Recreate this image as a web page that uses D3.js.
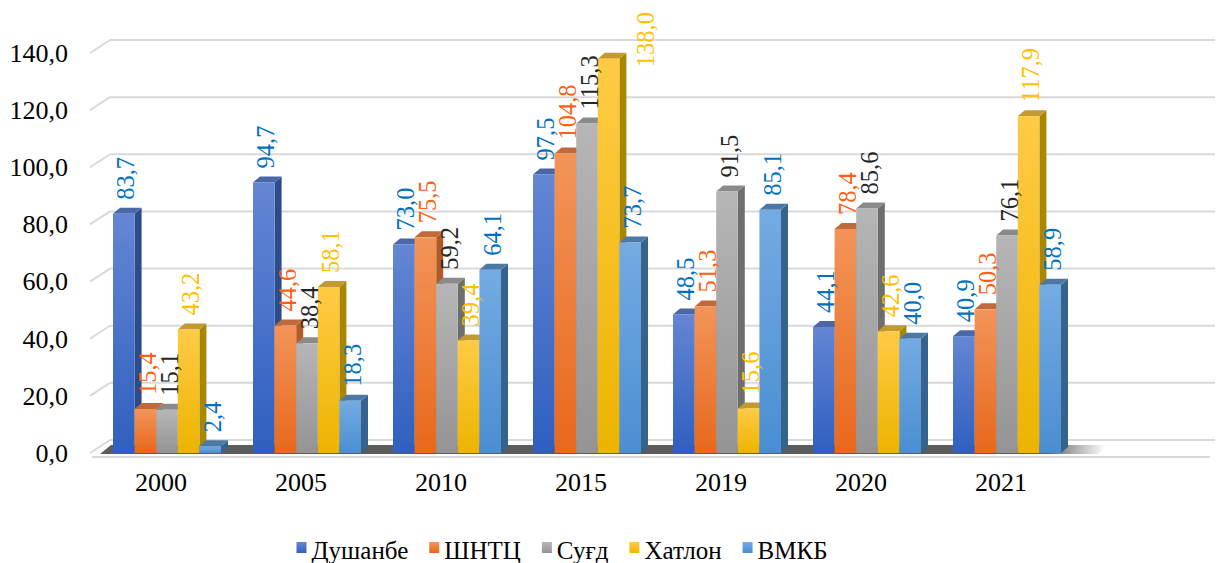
<!DOCTYPE html>
<html>
<head>
<meta charset="utf-8">
<script src="https://cdn.jsdelivr.net/npm/d3@7"></script>
</head>
<body style="margin:0">
<div id="canvas"></div>
<script>
// data
const years = ["2000", "2005", "2010", "2015", "2019", "2020", "2021"];
const series = ["Душанбе", "ШНТЦ", "Суғд", "Хатлон", "ВМКБ"];
const dushanbe = [83.7, 94.7, 73.0, 97.5, 48.5, 44.1, 40.9];
const shntc = [15.4, 44.6, 75.5, 104.8, 51.3, 78.4, 50.3];
const sugd = [15.1, 38.4, 59.2, 115.3, 91.5, 85.6, 76.1];
const khatlon = [43.2, 58.1, 39.4, 138.0, 15.6, 42.6, 117.9];
const vmkb = [2.4, 18.3, 64.1, 73.7, 85.1, 40.0, 58.9];
const yTicks = [0, 20, 40, 60, 80, 100, 120, 140];

const values = [dushanbe, shntc, sugd, khatlon, vmkb];
const FONT = "Liberation Serif";

// colours: front top, front bottom, side, top face, label
const colors = [
    { t: "#6486d4", b: "#2f5fbf", side: "#2c4c8c", top: "#4a68a8", lab: "#0070c0" },
    { t: "#f29459", b: "#e8681c", side: "#b25a26", top: "#c06a3c", lab: "#ff6010" },
    { t: "#b6b6b6", b: "#949494", side: "#6e6e6e", top: "#8a8a8a", lab: "#262626" },
    { t: "#ffcb45", b: "#ecb400", side: "#a88600", top: "#c29a30", lab: "#ffc000" },
    { t: "#74abe2", b: "#4a8ed2", side: "#36628e", top: "#4c78a6", lab: "#0070c0" }
];

const width = 1217, height = 563;
const dx = 7, dy = -6;        // bar depth
const wx = 20, wy = -13;      // wall depth
const fmt = v => d3.format(".1f")(v).replace(".", ",");

function draw() {
    const svg = d3.select("#canvas").append("svg")
        .attr("width", width)
        .attr("height", height)
        .attr("font-family", FONT);

    const defs = svg.append("defs");
    colors.forEach((c, i) => {
        const g = defs.append("linearGradient").attr("id", "grad" + i)
            .attr("x1", 0).attr("y1", 0).attr("x2", 0).attr("y2", 1);
        g.append("stop").attr("offset", 0).attr("stop-color", c.t);
        g.append("stop").attr("offset", 1).attr("stop-color", c.b);
    });
    const fg = defs.append("linearGradient").attr("id", "floorGrad")
        .attr("gradientUnits", "userSpaceOnUse")
        .attr("x1", 100).attr("x2", 1105).attr("y1", 0).attr("y2", 0);
    fg.append("stop").attr("offset", 0).attr("stop-color", "#5c5c5c");
    fg.append("stop").attr("offset", 0.94).attr("stop-color", "#5c5c5c");
    fg.append("stop").attr("offset", 1).attr("stop-color", "#ffffff");

    const y = d3.scaleLinear().domain([0, 140]).range([453, 53]);
    const x0 = d3.scaleBand().domain(years.concat([""])).range([92, 1212]);
    const x1 = d3.scaleBand().domain(series).range([21, 129]);

    // back wall gridlines
    const grid = svg.append("g");
    yTicks.forEach(t => {
        grid.append("line")
            .attr("x1", 90).attr("y1", y(t))
            .attr("x2", 90 + wx).attr("y2", y(t) + wy)
            .attr("stroke", "#d9d9d9").attr("stroke-width", 2);
        grid.append("line")
            .attr("x1", 90 + wx).attr("y1", y(t) + wy)
            .attr("x2", 1215).attr("y2", y(t) + wy)
            .attr("stroke", "#d9d9d9").attr("stroke-width", 2);
    });

    // floor
    svg.append("line")
        .attr("x1", 92).attr("y1", 457).attr("x2", 1210).attr("y2", 457)
        .attr("stroke", "#d9d9d9").attr("stroke-width", 2);
    svg.append("path")
        .attr("d", `M100,454 L${100 + wx * 0.55},445 L1108,445 L1098,454 Z`)
        .attr("fill", "url(#floorGrad)");

    // bars
    const bars = svg.append("g");
    years.forEach((yr, j) => {
        series.forEach((s, i) => {
            const v = values[i][j];
            const xl = x0(yr) + x1(s);
            const w = x1.bandwidth();
            const yt = y(v), yb = y(0);
            const c = colors[i];
            bars.append("path")
                .attr("d", `M${xl + w},${yt} L${xl + w + dx},${yt + dy} L${xl + w + dx},${yb + dy} L${xl + w},${yb} Z`)
                .attr("fill", c.side);
            bars.append("path")
                .attr("d", `M${xl},${yt} L${xl + dx},${yt + dy} L${xl + w + dx},${yt + dy} L${xl + w},${yt} Z`)
                .attr("fill", c.top);
            bars.append("rect")
                .attr("x", xl).attr("y", yt)
                .attr("width", w).attr("height", yb - yt)
                .attr("fill", `url(#grad${i})`);
        });
    });

    // value labels (rotated)
    const fs = 24.5;
    const labels = svg.append("g").attr("font-family", FONT).attr("font-size", fs);
    years.forEach((yr, j) => {
        series.forEach((s, i) => {
            const v = values[i][j];
            const xl = x0(yr) + x1(s);
            const w = x1.bandwidth();
            const str = fmt(v);
            const len = fs * ((str.length - 1) * 0.5 + 0.25);
            let cx = xl + w / 2 + 2;
            let start = y(v) + dy - 8;
            if (start - len < 2) {
                cx = xl + w + dx + 19;
                start = 12 + len;
            }
            labels.append("text")
                .attr("fill", colors[i].lab)
                .attr("dy", "0.35em")
                .attr("transform", `translate(${cx},${start}) rotate(-90)`)
                .text(str);
        });
    });

    // y axis
    const yAxis = svg.append("g")
        .attr("transform", "translate(71,0)")
        .call(d3.axisLeft(y).tickValues(yTicks).tickSize(0).tickFormat(fmt));
    yAxis.select(".domain").remove();
    yAxis.attr("font-family", FONT).attr("font-size", 26);
    yAxis.selectAll("text").attr("fill", "#000");

    // x axis
    const xAxis = svg.append("g")
        .attr("transform", "translate(-1,470)")
        .call(d3.axisBottom(x0).tickValues(years).tickSize(0));
    xAxis.select(".domain").remove();
    xAxis.attr("font-family", FONT).attr("font-size", 26);
    xAxis.selectAll("text").attr("fill", "#000");

    // legend
    const legend = svg.append("g").attr("font-family", FONT).attr("font-size", 25);
    const items = [];
    series.forEach((s, i) => {
        const it = legend.append("g");
        it.append("rect").attr("x", 0).attr("y", -17).attr("width", 10).attr("height", 11)
            .attr("fill", `url(#grad${i})`);
        const t = it.append("text").attr("x", 15).attr("y", 0)
            .attr("fill", "#000").text(s);
        items.push({ it, t });
    });
    const gap = 21;
    let lx = 312;
    items.forEach(d => {
        d.it.attr("transform", `translate(${lx},559)`);
        lx += 15 + d.t.node().getComputedTextLength() + gap;
    });
    // recentre around the reference centre
    const total = lx - gap - 312;
    legend.attr("transform", `translate(${562 - total / 2 - 312},0)`);
}

if (document.fonts && document.fonts.load) {
    document.fonts.load('25px "Liberation Serif"', "Душанбе 140,0").then(draw, draw);
} else {
    draw();
}
</script>
</body>
</html>
